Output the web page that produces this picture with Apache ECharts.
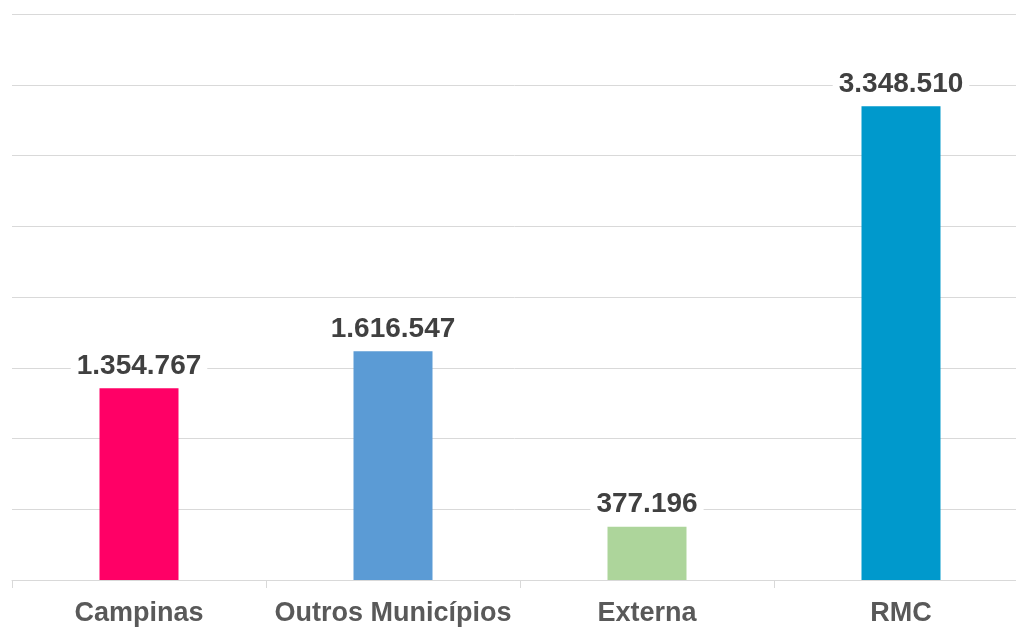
<!DOCTYPE html>
<html>
<head>
<meta charset="utf-8">
<script src="https://cdn.jsdelivr.net/npm/echarts@6/dist/echarts.min.js"></script>
<style>
html,body{margin:0;padding:0;background:#fff;overflow:hidden;}
#chart{width:1016px;height:627px;}
</style>
</head>
<body>
<div id="chart"></div>
<script>
const categories = ['Campinas', 'Outros Municípios', 'Externa', 'RMC'];
const values = [1354767, 1616547, 377196, 3348510];
const colors = ['#FF0066', '#5B9BD5', '#ADD59B', '#0099CC'];

function fmt(v) {
  return String(v).replace(/\B(?=(\d{3})+(?!\d))/g, '.');
}

const chart = echarts.init(document.getElementById('chart'), null, {renderer: 'canvas'});
chart.setOption({
  animation: false,
  backgroundColor: '#ffffff',
  grid: {left: 12, top: 14, right: -12, bottom: 47, containLabel: false, outerBoundsMode: 'none'},
  xAxis: {
    type: 'category',
    data: categories,
    boundaryGap: true,
    axisLine: {show: true, lineStyle: {color: '#D9D9D9', width: 1}},
    axisTick: {show: true, length: 8, lineStyle: {color: '#D9D9D9'}},
    axisLabel: {
      interval: 0,
      color: '#595959', fontSize: 27, fontWeight: 'bold',
      fontFamily: 'Liberation Sans, Arial, sans-serif', margin: 20
    }
  },
  yAxis: {
    type: 'value',
    min: 0, max: 4000000, interval: 500000,
    axisLine: {show: false},
    axisTick: {show: false},
    axisLabel: {show: false},
    splitLine: {show: true, lineStyle: {color: '#D9D9D9', width: 1}}
  },
  series: [{
    type: 'bar',
    barWidth: 79,
    data: values.map((v, i) => ({value: v, itemStyle: {color: colors[i]}})),
    label: {
      show: true, position: 'top', distance: 8,
      formatter: p => fmt(p.value),
      color: '#404040', fontSize: 28, fontWeight: 'bold',
      fontFamily: 'Liberation Sans, Arial, sans-serif',
      backgroundColor: '#ffffff', padding: [2, 6, 0, 6]
    }
  }]
});
</script>
</body>
</html>
